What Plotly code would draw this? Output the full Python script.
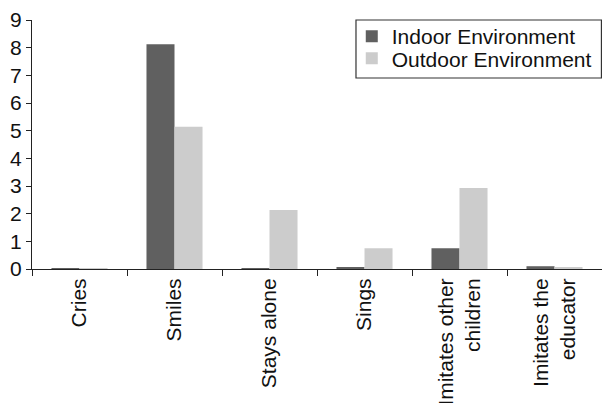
import plotly.graph_objects as go

categories = ["Cries", "Smiles", "Stays alone", "Sings", "Imitates other<br>children", "Imitates the<br>educator"]
indoor = [0.02, 8.12, 0.02, 0.06, 0.75, 0.1]
outdoor = [0.02, 5.14, 2.13, 0.75, 2.93, 0.05]
y_ticks = [0, 1, 2, 3, 4, 5, 6, 7, 8, 9]

font = dict(family="Liberation Sans, Arial, Helvetica, sans-serif", size=21, color="#111111")

fig = go.Figure()
fig.add_trace(go.Bar(x=categories, y=indoor, name="Indoor Environment", legend="legend",
                     marker=dict(color="#606060", line=dict(width=0))))
fig.add_trace(go.Bar(x=categories, y=outdoor, name="Outdoor Environment", legend="legend2",
                     marker=dict(color="#cccccc", line=dict(width=0))))

leg_common = dict(xanchor="left", yanchor="top", borderwidth=0, bgcolor="rgba(0,0,0,0)",
                  font=font, itemwidth=30)

fig.update_layout(
    width=602, height=403,
    margin=dict(l=32, r=0, t=20, b=134, autoexpand=False),
    paper_bgcolor="white", plot_bgcolor="white",
    font=font,
    barmode="group", bargap=0.41, bargroupgap=0,
    showlegend=True,
    legend=dict(x=0.561, y=1.016, **leg_common),
    legend2=dict(x=0.561, y=0.927, **leg_common),
    xaxis=dict(showline=True, linecolor="#222222", linewidth=1, ticks="outside",
               ticklen=6, tickcolor="#222222", tickangle=-90, tickson="boundaries",
               showgrid=False, tickfont=font, automargin=False),
    yaxis=dict(range=[0, 9], tickvals=y_ticks, showline=True, linecolor="#222222", linewidth=1,
               ticks="outside", ticklen=5, tickcolor="#222222", showgrid=False, zeroline=False,
               tickfont=font, automargin=False),
    shapes=[dict(type="rect", xref="paper", yref="paper", x0=0.5684, x1=0.999, y0=0.767, y1=1.0,
                 line=dict(color="#333333", width=1.2), fillcolor="rgba(0,0,0,0)", layer="above")],
)

fig.write_html("out.html", post_script="document.body.style.margin='0';",
               config={"displayModeBar": False})
